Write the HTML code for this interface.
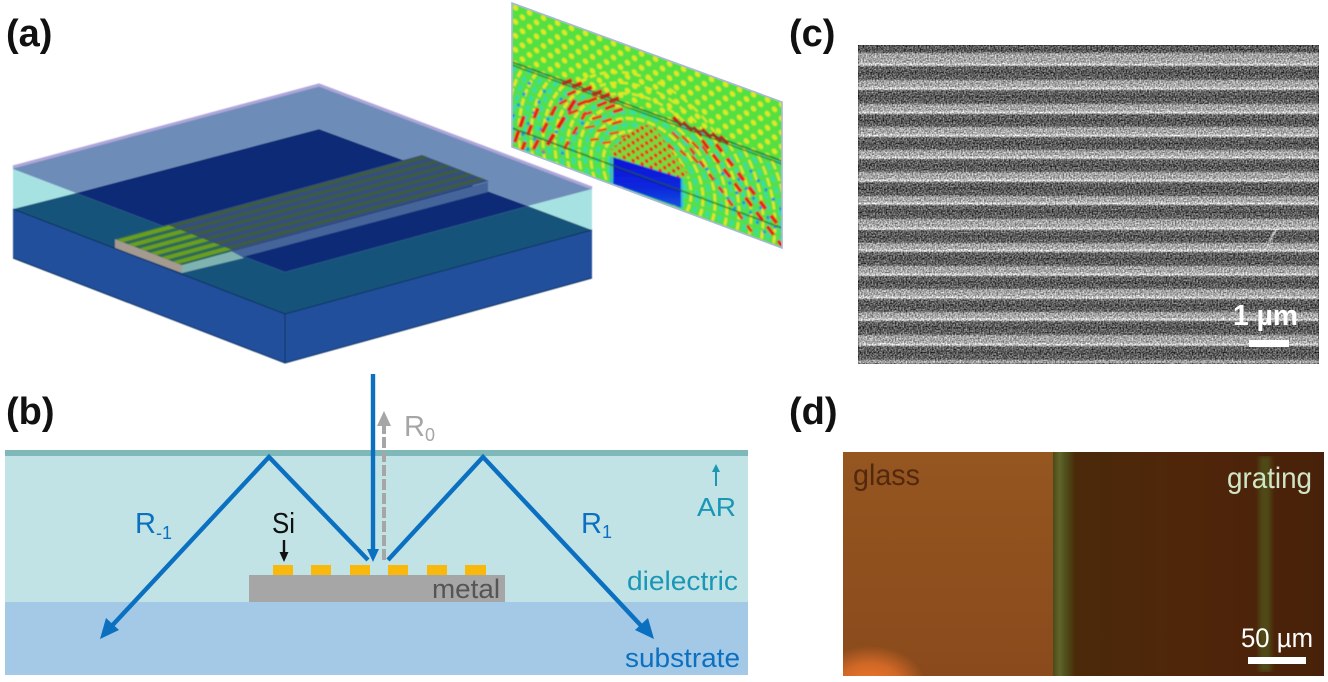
<!DOCTYPE html>
<html><head><meta charset="utf-8"><style>
html,body{margin:0;padding:0;background:#fff;width:1328px;height:682px;overflow:hidden}
svg{display:block}
text{font-family:"Liberation Sans",sans-serif}
</style></head><body>
<svg xmlns="http://www.w3.org/2000/svg" width="1328" height="682" viewBox="0 0 1328 682">
<defs>
<filter id="sem" x="0" y="0" width="100%" height="100%" color-interpolation-filters="sRGB">
<feGaussianBlur in="SourceGraphic" stdDeviation="0.8" result="s"/>
<feTurbulence type="fractalNoise" baseFrequency="0.65" numOctaves="1" seed="4" result="t"/>
<feColorMatrix in="t" type="matrix" values="1 0 0 0 0 1 0 0 0 0 1 0 0 0 0 0 0 0 0 1" result="g"/>
<feGaussianBlur in="g" stdDeviation="0.3" result="g2"/>
<feComposite in="s" in2="g2" operator="arithmetic" k1="0" k2="1" k3="1.05" k4="-0.525"/>
</filter>
<filter id="b1"><feGaussianBlur stdDeviation="0.6"/></filter>
<filter id="bf" x="0" y="0" width="100%" height="100%"><feGaussianBlur stdDeviation="0.8"/></filter>
<filter id="b2" x="-100%" y="0" width="300%" height="100%"><feGaussianBlur stdDeviation="2"/></filter>
<pattern id="chk" width="14" height="14" patternUnits="userSpaceOnUse" patternTransform="translate(512 3) matrix(1 .365 0 1 0 0)">
<rect width="14" height="14" fill="#52e040"/>
<circle cx="3.5" cy="3.5" r="2.7" fill="#e0e824"/>
<circle cx="10.5" cy="10.5" r="2.7" fill="#e0e824"/>
</pattern>
<pattern id="rdots" width="9" height="9" patternUnits="userSpaceOnUse" patternTransform="translate(640 125) matrix(1 .365 0 1 0 0)">
<rect width="9" height="9" fill="#74dc3c"/>
<circle cx="2.2" cy="2.2" r="1.9" fill="#ee1a14"/>
<circle cx="6.7" cy="6.7" r="1.9" fill="#ee1a14"/>
</pattern>
<linearGradient id="blk" x1="0" x2="0" y1="0" y2="1"><stop offset="0" stop-color="#0810d8"/><stop offset=".6" stop-color="#0c28dc"/><stop offset="1" stop-color="#1650e0"/></linearGradient>
<clipPath id="pn"><polygon points="512,3 782,102 782,248 512,147"/></clipPath>
<clipPath id="low"><polygon points="512,62 782,161 782,248 512,147"/></clipPath>
<radialGradient id="ar" gradientUnits="userSpaceOnUse" cx="870" cy="686" r="56" gradientTransform="translate(870 686) scale(1 .72) translate(-870 -686)"><stop offset="0" stop-color="#f57a2a"/><stop offset=".55" stop-color="#e8722a" stop-opacity=".75"/><stop offset="1" stop-color="#e8722a" stop-opacity="0"/></radialGradient>
<linearGradient id="rg" x1="0" x2="1" y1="0" y2="0"><stop offset="0" stop-color="#4a2a0a"/><stop offset=".5" stop-color="#50260a"/><stop offset="1" stop-color="#48210a"/></linearGradient>
<linearGradient id="gs" x1="0" x2="1" y1="0" y2="0"><stop offset="0" stop-color="#4a4a18"/><stop offset=".3" stop-color="#62642a"/><stop offset=".55" stop-color="#50521e"/><stop offset="1" stop-color="#4a2c0a"/></linearGradient>
<linearGradient id="gl" x1="0" x2="0" y1="0" y2="1"><stop offset="0" stop-color="#965620"/><stop offset="1" stop-color="#8a4a1c"/></linearGradient>
</defs>

<!-- (a) structure -->
<g filter="url(#b1)">
<polygon points="13,209 285,314 285,363 13,258" fill="#20509c"/>
<polygon points="285,314 592,230 592,278 285,363" fill="#20509c"/>
<polygon points="13,209 76,193 285,272 528,206 592,230 285,314" fill="#13537a"/>
<polygon points="319,129 76,193 285,272 528,206" fill="#0d2b76"/>
<polygon points="13,169 76,193 13,209" fill="#a6e2e2"/>
<polygon points="592,189 528,206 592,230" fill="#a6e2e2"/>
<polygon points="319,85 13,166 13,169 76,193 319,129 528,206 592,189 592,187" fill="#6d8db8"/>
<polyline points="13,167 319,85 592,188" fill="none" stroke="#aea6da" stroke-width="3"/>
<!-- block -->
<polygon points="115,239 182,265 182,273 115,248" fill="#a49a90"/>
<polygon points="182,265 488,182 488,192 182,273" fill="#44659a"/>
<polygon points="182,265 231,251 244,258 182,273" fill="#7fb3b2"/>
<g transform="matrix(67 26 307 -84 115 239)">
<rect x="0" y="0" width="1" height="1" fill="#364f7c"/>
<rect x="0" y="0" width="1" height=".17" fill="#2f6a58"/>
<g fill="#3e5c3a">
<rect x=".03" y="0" width=".07" height="1"/><rect x=".197" y="0" width=".07" height="1"/><rect x=".363" y="0" width=".07" height="1"/><rect x=".53" y="0" width=".07" height="1"/><rect x=".697" y="0" width=".07" height="1"/><rect x=".863" y="0" width=".07" height="1"/>
</g>
<g fill="#6a9f1c">
<rect x=".03" y="0" width=".09" height=".17"/><rect x=".197" y="0" width=".09" height=".17"/><rect x=".363" y="0" width=".09" height=".17"/><rect x=".53" y="0" width=".09" height=".17"/><rect x=".697" y="0" width=".09" height=".17"/><rect x=".863" y="0" width=".09" height=".17"/>
</g>
</g>
<g fill="none" stroke="#10305f" stroke-width="1">
<polyline points="13,258 285,363 592,278"/>
<line x1="285" y1="314" x2="285" y2="363"/>
<polyline points="13,209 285,314 592,230"/>
</g>
</g>

<!-- field panel -->
<g clip-path="url(#pn)">
<g filter="url(#bf)">
<polygon points="512,3 782,102 782,248 512,147" fill="url(#chk)"/>
<g transform="translate(647 170) matrix(1 .365 0 1 0 0)" fill="none" stroke="#e0e824" stroke-width="2.4" stroke-dasharray="7 5">
<circle r="72"/><circle r="82"/><circle r="92"/>
</g>
<g clip-path="url(#low)">
<polygon points="512,62 782,161 782,248 512,147" fill="#52e048"/>
<g transform="translate(647 178) matrix(1 .365 0 1 0 0)" fill="none" stroke-width="2.6" stroke-dasharray="8 3">
<g stroke="#e8e428"><circle r="32"/><circle r="44"/><circle r="56"/><circle r="68"/><circle r="80"/><circle r="92"/><circle r="104"/><circle r="116"/><circle r="128"/><circle r="140"/><circle r="152"/></g>
<g stroke="#30dcb8" stroke-dasharray="6 5"><circle r="38"/><circle r="50"/><circle r="62"/><circle r="74"/><circle r="86"/><circle r="98"/><circle r="110"/><circle r="122"/><circle r="134"/><circle r="146"/></g>
</g>
</g>
<!-- steep left rays -->
<g fill="none">
<path d="M530 82L512 118M545 90L520 140M562 98L526 152M576 100L540 158M590 112L558 160" stroke="#1890e0" stroke-width="3" stroke-dasharray="3 9"/>
<path d="M524 116L513 147" stroke="#e81818" stroke-width="4" stroke-dasharray="12 4"/>
<path d="M538 108L522 150" stroke="#e82018" stroke-width="4" stroke-dasharray="11 7"/>
<path d="M556 106L532 152" stroke="#e82018" stroke-width="4" stroke-dasharray="11 8"/>
<path d="M575 100L543 152" stroke="#e81818" stroke-width="4.4" stroke-dasharray="13 7"/>
<path d="M586 112L560 156" stroke="#e83018" stroke-width="3.4" stroke-dasharray="9 8"/>
<!-- steep right rays -->
<path d="M738 178L782 236M722 172L770 240M750 170L782 210M706 168L752 232" stroke="#1890e0" stroke-width="3" stroke-dasharray="3 9"/>
<path d="M702 140L782 246" stroke="#e81818" stroke-width="3.6" stroke-dasharray="11 7"/>
<path d="M716 144L782 230" stroke="#e82018" stroke-width="4" stroke-dasharray="10 8"/>
<path d="M690 148L752 232" stroke="#e83018" stroke-width="3" stroke-dasharray="8 8"/>
<!-- interface band, left -->
<path d="M562 84l10-4M572 87l10-4M582 91l10-4M592 95l10-4M600 98l10-4M609 102l10-4" stroke="#e01414" stroke-width="4.2"/>
<path d="M567 95l9-4M577 105l10-4M587 102l10-4M597 106l10-4M605 109l10-4M613 112l10-3" stroke="#e82418" stroke-width="3.4"/>
<path d="M559 104l8-4M568 114l10-4M582 115l10-3M592 119l10-3M602 122l10-3M612 124l10-3" stroke="#ec3018" stroke-width="3"/>
<path d="M585 128l10-2M597 131l10-2M609 134l10-2M621 137l9-2M590 140l9-1M602 143l9-1M614 147l9-1" stroke="#ee3818" stroke-width="2.3"/>
<!-- interface band, right -->
<path d="M673 117l9 9M683 122l9 9M693 127l9 9M702 129l9 9M712 133l9 9M720 136l8 8" stroke="#c81414" stroke-width="3.6"/>
<path d="M672 132l7 7M682 136l7 7M692 142l7 7M702 146l6 8M668 144l6 6M680 150l6 6M692 156l6 7" stroke="#e83018" stroke-width="2.6"/>
</g>
<polygon points="640,124 654,126 690,176 680,180 612,156 610,150" fill="url(#rdots)"/>
<polygon points="613,157 681,178 681,208 613,184" fill="url(#blk)"/>
<line x1="611" y1="157" x2="611" y2="184" stroke="#30a8e0" stroke-width="1.6"/>
<line x1="682" y1="178" x2="682" y2="208" stroke="#30b8e0" stroke-width="1.8"/>
<g fill="none" stroke="#1c5030">
<line x1="512" y1="62" x2="782" y2="161" stroke-width="1.3"/>
<line x1="512" y1="65" x2="782" y2="164" stroke-width="1"/>
<line x1="512" y1="128" x2="782" y2="228" stroke-width="1.2"/>
</g>
<line x1="613" y1="167" x2="681" y2="192" stroke="#0810b0" stroke-width="1"/>
</g>
</g>
<polygon points="512,3 782,102 782,248 512,147" fill="none" stroke="#a8b8d4" stroke-width="1.6"/>

<!-- (c) SEM -->
<g filter="url(#sem)">
<rect x="858" y="45" width="461" height="319" fill="#a6a6a6"/>
<g fill="#606060">
<rect x="858" y="45" width="461" height="8"/>
<rect x="858" y="66" width="461" height="14"/><rect x="858" y="90" width="461" height="14"/><rect x="858" y="114" width="461" height="13"/><rect x="858" y="137" width="461" height="13"/><rect x="858" y="159" width="461" height="13"/><rect x="858" y="182" width="461" height="14"/><rect x="858" y="205" width="461" height="14"/><rect x="858" y="230" width="461" height="13"/><rect x="858" y="252" width="461" height="14"/><rect x="858" y="276" width="461" height="13"/><rect x="858" y="299" width="461" height="13"/><rect x="858" y="321" width="461" height="14"/><rect x="858" y="346" width="461" height="14"/>
</g>
<g fill="#484848">
<rect x="858" y="49" width="461" height="1.4"/><rect x="858" y="72" width="461" height="1.4"/><rect x="858" y="96" width="461" height="1.4"/><rect x="858" y="120" width="461" height="1.4"/><rect x="858" y="143" width="461" height="1.4"/><rect x="858" y="165" width="461" height="1.4"/><rect x="858" y="188" width="461" height="1.4"/><rect x="858" y="211" width="461" height="1.4"/><rect x="858" y="236" width="461" height="1.4"/><rect x="858" y="258" width="461" height="1.4"/><rect x="858" y="282" width="461" height="1.4"/><rect x="858" y="305" width="461" height="1.4"/><rect x="858" y="327" width="461" height="1.4"/><rect x="858" y="352" width="461" height="1.4"/>
</g>
<g fill="#dcdcdc">
<rect x="858" y="63.5" width="461" height="2"/><rect x="858" y="87.5" width="461" height="2"/><rect x="858" y="111.5" width="461" height="2"/><rect x="858" y="134.5" width="461" height="2"/><rect x="858" y="156.5" width="461" height="2"/><rect x="858" y="179.5" width="461" height="2"/><rect x="858" y="202.5" width="461" height="2"/><rect x="858" y="227.5" width="461" height="2"/><rect x="858" y="249.5" width="461" height="2"/><rect x="858" y="273.5" width="461" height="2"/><rect x="858" y="296.5" width="461" height="2"/><rect x="858" y="318.5" width="461" height="2"/><rect x="858" y="343.5" width="461" height="2"/>
</g>
<path d="M1276 229L1266 249" stroke="#c8c8c8" stroke-width="2" fill="none"/>
</g>
<text x="1233" y="325" font-size="29" font-weight="bold" fill="#fff" textLength="65" lengthAdjust="spacingAndGlyphs">1 µm</text>
<rect x="1249" y="340" width="40" height="7" fill="#fff"/>

<!-- (d) optical -->
<rect x="843" y="452" width="211" height="224" fill="url(#gl)"/>
<rect x="843" y="640" width="90" height="36" fill="url(#ar)"/>
<rect x="1053" y="452" width="271" height="224" fill="url(#rg)"/>
<rect x="1053" y="452" width="22" height="224" fill="url(#gs)"/>
<g filter="url(#b2)"><rect x="1259" y="456" width="12" height="216" fill="#4f4a18"/></g>
<text x="853" y="485" font-size="30" fill="#52290f" textLength="67" lengthAdjust="spacingAndGlyphs">glass</text>
<text x="1227" y="488" font-size="30" fill="#cfe6c6" textLength="85" lengthAdjust="spacingAndGlyphs">grating</text>
<text x="1241" y="647" font-size="27" fill="#fff" textLength="72" lengthAdjust="spacingAndGlyphs">50 µm</text>
<rect x="1248" y="657" width="58" height="7" fill="#fff"/>

<!-- (b) schematic -->
<rect x="5" y="456" width="743" height="146" fill="#c2e3e6"/>
<rect x="5" y="602" width="743" height="73" fill="#a3c9e7"/>
<rect x="5" y="450" width="743" height="6" fill="#7fb8b8"/>
<rect x="249" y="575" width="256" height="27" fill="#a6a6a6"/>
<g fill="#f8b90c">
<rect x="273" y="565" width="20" height="10"/><rect x="311" y="565" width="20" height="10"/><rect x="350" y="565" width="20" height="10"/><rect x="388" y="565" width="20" height="10"/><rect x="427" y="565" width="20" height="10"/><rect x="465" y="565" width="21" height="10"/>
</g>
<text x="432" y="598" font-size="27" fill="#555" textLength="68" lengthAdjust="spacingAndGlyphs">metal</text>
<!-- rays -->
<g fill="none" stroke="#0b70c0" stroke-width="4.4">
<polyline points="368,560 269,457 108,630"/>
<polyline points="388,560 483,457 647,632"/>
<line x1="373" y1="374" x2="373" y2="550"/>
</g>
<polygon points="367,549 379,549 373,562" fill="#0b70c0"/>
<polygon points="100,639 106,618 119,630" fill="#0b70c0"/>
<polygon points="654,639 635,630 648,618" fill="#0b70c0"/>
<line x1="384" y1="560" x2="384" y2="424" stroke="#a6a6a6" stroke-width="4" stroke-dasharray="11 3"/>
<polygon points="377,426 391,426 384,411" fill="#a6a6a6"/>
<line x1="284" y1="540" x2="284" y2="553" stroke="#111" stroke-width="2.4"/>
<polygon points="279.5,552 288.5,552 284,562" fill="#111"/>
<line x1="716" y1="470" x2="716" y2="486" stroke="#1b97b5" stroke-width="2"/>
<polygon points="712,472 720,472 716,464" fill="#1b97b5"/>
<text x="135" y="533" font-size="29" fill="#0b70c0">R<tspan font-size="18" dy="6">-1</tspan></text>
<text x="581" y="533" font-size="29" fill="#0b70c0">R<tspan font-size="18" dy="5">1</tspan></text>
<text x="404" y="436" font-size="29" fill="#a6a6a6">R<tspan font-size="18" dy="5">0</tspan></text>
<text x="272" y="533" font-size="29" fill="#111" textLength="23" lengthAdjust="spacingAndGlyphs">Si</text>
<text x="697" y="516" font-size="26" fill="#1b97b5" textLength="39" lengthAdjust="spacingAndGlyphs">AR</text>
<text x="627" y="590" font-size="27" fill="#1b97b5" textLength="111" lengthAdjust="spacingAndGlyphs">dielectric</text>
<text x="625" y="667" font-size="27" fill="#0b70c0" textLength="115" lengthAdjust="spacingAndGlyphs">substrate</text>

<!-- panel labels -->
<g font-size="38" font-weight="bold" fill="#111">
<text x="6" y="46">(a)</text>
<text x="789" y="46">(c)</text>
<text x="6" y="424">(b)</text>
<text x="789" y="424">(d)</text>
</g>
</svg>
</body></html>
